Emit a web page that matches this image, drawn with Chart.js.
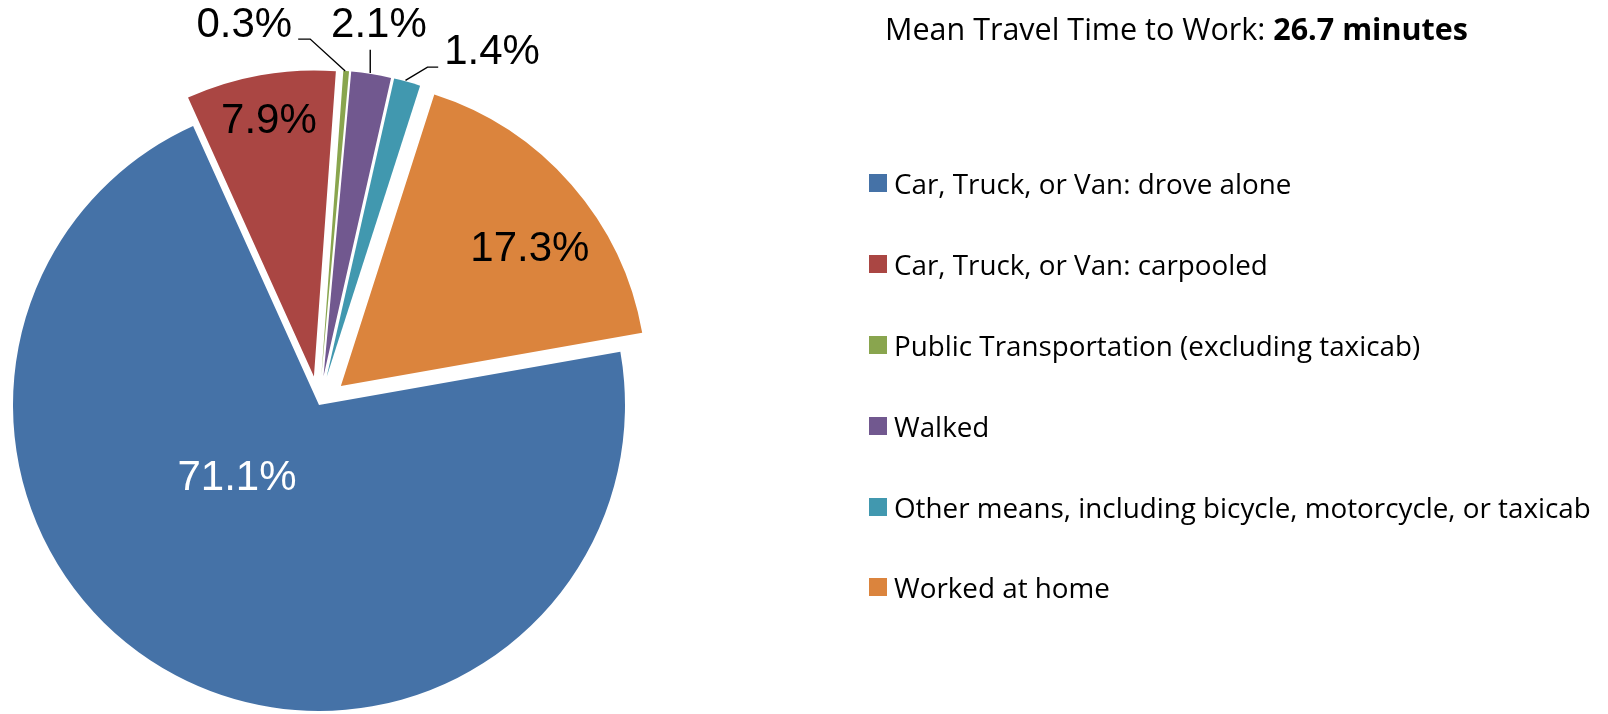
<!DOCTYPE html>
<html><head><meta charset="utf-8">
<script src="https://cdn.jsdelivr.net/npm/chart.js@4.4.1/dist/chart.umd.min.js"></script>
<style>
html,body{margin:0;padding:0;background:#fff;}
#wrap{position:relative;width:1608px;height:714px;overflow:hidden;}
#c{position:absolute;left:0;top:0;}
#title{position:absolute;left:885px;top:8px;font-family:"Open Sans",sans-serif;font-size:30.5px;line-height:40px;color:#000;white-space:nowrap;}
#title b{font-weight:700;}
#legend{position:absolute;left:869px;top:0;font-family:"Open Sans",sans-serif;font-size:27.8px;color:#000;}
.item{position:absolute;left:0;display:flex;align-items:center;white-space:nowrap;height:34px;line-height:34px;}
.box{width:18px;height:18px;margin-right:7px;flex:none;}
</style></head>
<body>
<div id="wrap">
<canvas id="c" width="1608" height="714"></canvas>
<div id="title"></div>
<div id="legend"></div>
</div>
<script>
// ---- data ----
const categories = [
  'Car, Truck, or Van: drove alone',
  'Car, Truck, or Van: carpooled',
  'Public Transportation (excluding taxicab)',
  'Walked',
  'Other means, including bicycle, motorcycle, or taxicab',
  'Worked at home'
];
const shares = [71.1, 7.9, 0.3, 2.1, 1.4, 17.3];
const colors = ['#4572A7', '#AA4643', '#89A54E', '#71588F', '#4198AF', '#DB843D'];
const titleText = 'Mean Travel Time to Work: ';
const titleValue = '26.7 minutes';

// ---- style / layout ----
const RADIUS = 306;
const EXPLODE = [0, 29, 29, 29, 29, 29]; // slice pull-out in px
const labelStyle = [
  {inside: true, dx: -82, dy: 73, color: '#fff'},
  {inside: true, dx: -45, dy: -255, color: '#000'},
  {inside: false, line: [[-1, 0], [-36, -32], [-48, -32]], tx: -54, ty: -45.5, align: 'right'},
  {inside: false, line: [[-1, -1], [-1, -24.4]], tx: 7.7, ty: -48.9, align: 'center'},
  {inside: false, line: [[-1.7, -1.4], [20.3, -14.7], [31, -14.7]], tx: 37, ty: -29.1, align: 'left'},
  {inside: true, dx: 189, dy: -137, color: '#000'}
];

// Keep every exploded slice at the full radius and full angular width
const fixRadius = {
  id: 'fixRadius',
  afterDatasetUpdate(chart, args) {
    args.meta.data.forEach((arc, i) => {
      const circ = arc.circumference;
      const fix = 1 - Math.sin(Math.min(Math.PI, circ));
      const r0 = EXPLODE[i] * fix;
      arc.outerRadius = RADIUS - r0;
      const k = r0 / (Math.PI * RADIUS);
      arc.startAngle -= k / 2;
      arc.endAngle += k / 2;
    });
  }
};

const dataLabels = {
  id: 'dataLabels',
  afterDatasetsDraw(chart) {
    const ctx = chart.ctx;
    const meta = chart.getDatasetMeta(0);
    ctx.save();
    ctx.font = '42px "Liberation Sans", Arial, sans-serif';
    ctx.textBaseline = 'middle';
    meta.data.forEach((arc, i) => {
      const st = labelStyle[i];
      const mid = (arc.startAngle + arc.endAngle) / 2;
      const vx = arc.x + Math.cos(mid) * EXPLODE[i];
      const vy = arc.y + Math.sin(mid) * EXPLODE[i];
      const text = shares[i].toFixed(1) + '%';
      if (st.inside) {
        ctx.fillStyle = st.color;
        ctx.textAlign = 'center';
        ctx.fillText(text, vx + st.dx, vy + st.dy);
      } else {
        const ox = vx + Math.cos(mid) * RADIUS;
        const oy = vy + Math.sin(mid) * RADIUS;
        ctx.strokeStyle = '#000';
        ctx.lineWidth = 1.4;
        ctx.beginPath();
        st.line.forEach((p, k) => {
          if (k === 0) ctx.moveTo(ox + p[0], oy + p[1]);
          else ctx.lineTo(ox + p[0], oy + p[1]);
        });
        ctx.stroke();
        ctx.fillStyle = '#000';
        ctx.textAlign = st.align;
        ctx.fillText(text, ox + st.tx, oy + st.ty);
      }
    });
    ctx.restore();
  }
};

const chart = new Chart(document.getElementById('c'), {
  type: 'pie',
  data: {
    labels: categories,
    datasets: [{
      data: shares,
      backgroundColor: colors,
      borderColor: '#fff',
      borderWidth: 0,
      offset: EXPLODE.map(v => v * 4)
    }]
  },
  options: {
    responsive: false,
    devicePixelRatio: 1,
    animation: false,
    events: [],
    rotation: 80,
    radius: RADIUS,
    layout: {padding: {left: 0, right: 970, top: 96, bottom: 0}},
    plugins: {legend: {display: false}, tooltip: {enabled: false}}
  },
  plugins: [fixRadius, dataLabels]
});

// title
const t = document.getElementById('title');
t.appendChild(document.createTextNode(titleText));
const b = document.createElement('b');
b.textContent = titleValue;
t.appendChild(b);

// legend
const lg = document.getElementById('legend');
categories.forEach((name, i) => {
  const it = document.createElement('div');
  it.className = 'item';
  it.style.top = (183.8 + i * 80.9 - 17.9) + 'px';
  const bx = document.createElement('span');
  bx.className = 'box';
  bx.style.background = colors[i];
  const tx = document.createElement('span');
  tx.textContent = name;
  it.appendChild(bx);
  it.appendChild(tx);
  lg.appendChild(it);
});
</script>
</body></html>
